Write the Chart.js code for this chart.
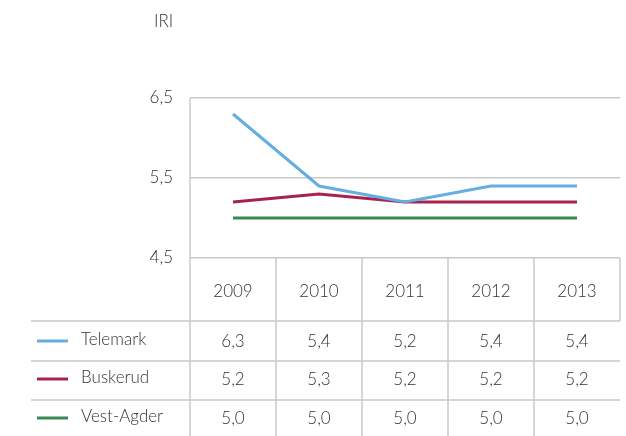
<!DOCTYPE html>
<html>
<head>
<meta charset="utf-8">
<script src="https://cdn.jsdelivr.net/npm/chart.js@4"></script>
<style>
    html, body { margin: 0; padding: 0; background: #ffffff; }
    #wrap { width: 626px; height: 436px; position: relative; }
</style>
</head>
<body>
<div id="wrap"><canvas id="iriChart" width="626" height="436"></canvas></div>
<script>
var years = ['2009', '2010', '2011', '2012', '2013'];
var telemark = [6.3, 5.4, 5.2, 5.4, 5.4];
var buskerud = [5.2, 5.3, 5.2, 5.2, 5.2];
var vestAgder = [5.0, 5.0, 5.0, 5.0, 5.0];
var seriesNames = ['Telemark', 'Buskerud', 'Vest-Agder'];
var yTicks = [4.5, 5.5, 6.5];

(function () {
    var FONT = 'Lato, "Open Sans", sans-serif';
    var TEXT = '#333333';
    var GRID = '#c8c8c8';
    var colors = ['#66aee2', '#a6244c', '#3b8857'];

    function fmt(v) {
        return Number(v).toFixed(1).replace('.', ',');
    }

    // table under the plot, built from the same arrays
    var tablePlugin = {
        id: 'dataTable',
        afterDraw: function (chart) {
            var ctx = chart.ctx;
            var area = chart.chartArea;
            var xs = chart.scales.x;
            var n = years.length;
            var colW = (area.right - area.left) / n;
            var headerBottom = 321;
            var rowLines = [321, 361, 400];
            var rowMid = [342, 380, 419];
            var rows = [telemark, buskerud, vestAgder];

            ctx.save();
            ctx.strokeStyle = GRID;
            ctx.lineWidth = 1.5;

            // vertical lines
            for (var i = 0; i <= n; i++) {
                var x = area.left + i * colW;
                ctx.beginPath();
                ctx.moveTo(x, area.bottom);
                ctx.lineTo(x, i === n ? headerBottom : 436);
                ctx.stroke();
            }
            // left border through the plot
            ctx.beginPath();
            ctx.moveTo(area.left, area.top);
            ctx.lineTo(area.left, area.bottom);
            ctx.stroke();

            // row lines
            rowLines.forEach(function (y) {
                ctx.beginPath();
                ctx.moveTo(31, y);
                ctx.lineTo(area.right, y);
                ctx.stroke();
            });

            ctx.fillStyle = TEXT;
            ctx.font = '300 17px ' + FONT;
            ctx.textAlign = 'center';
            ctx.textBaseline = 'middle';
            years.forEach(function (yr, j) {
                ctx.fillText(yr, xs.getPixelForValue(j), 292);
            });

            rows.forEach(function (vals, r) {
                ctx.strokeStyle = colors[r];
                ctx.lineWidth = 3;
                ctx.beginPath();
                ctx.moveTo(37, rowMid[r] - 1);
                ctx.lineTo(68, rowMid[r] - 1);
                ctx.stroke();

                ctx.textAlign = 'left';
                ctx.fillText(seriesNames[r], 81, rowMid[r] - 2);
                ctx.textAlign = 'center';
                vals.forEach(function (v, j) {
                    ctx.fillText(fmt(v), xs.getPixelForValue(j), rowMid[r]);
                });
            });

            // axis caption
            ctx.textAlign = 'left';
            ctx.fillText('IRI', 154, 22);
            ctx.restore();
        }
    };

    function makeSet(label, data, color) {
        return {
            label: label,
            data: data,
            borderColor: color,
            backgroundColor: color,
            borderWidth: 3,
            pointRadius: 0,
            tension: 0,
            fill: false
        };
    }

    var ctx = document.getElementById('iriChart').getContext('2d');
    new Chart(ctx, {
        type: 'line',
        data: {
            labels: years,
            datasets: [
                makeSet(seriesNames[0], telemark, colors[0]),
                makeSet(seriesNames[1], buskerud, colors[1]),
                makeSet(seriesNames[2], vestAgder, colors[2])
            ]
        },
        options: {
            responsive: false,
            animation: false,
            layout: {
                padding: { top: 98, bottom: 178, left: 0, right: 6 }
            },
            plugins: {
                legend: { display: false },
                tooltip: { enabled: false }
            },
            scales: {
                x: {
                    display: false,
                    offset: true
                },
                y: {
                    min: 4.5,
                    max: 6.5,
                    afterFit: function (scale) { scale.width = 190; },
                    afterBuildTicks: function (scale) {
                        scale.ticks = yTicks.map(function (v) { return { value: v }; });
                    },
                    border: { display: false },
                    grid: {
                        color: GRID,
                        lineWidth: 1.5,
                        drawTicks: false
                    },
                    ticks: {
                        padding: 17,
                        color: TEXT,
                        font: { family: FONT, size: 17, weight: '300' },
                        callback: function (value) { return fmt(value); }
                    }
                }
            }
        },
        plugins: [tablePlugin]
    });
})();
</script>
</body>
</html>
